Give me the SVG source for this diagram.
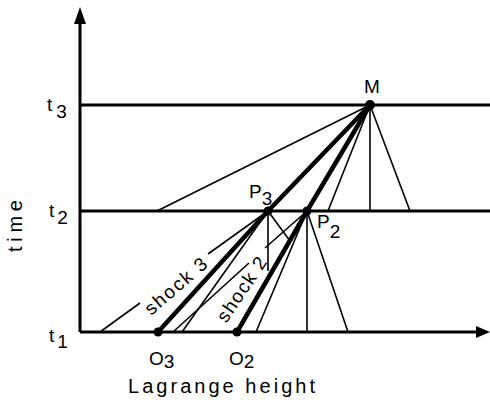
<svg xmlns="http://www.w3.org/2000/svg" width="490" height="400" viewBox="0 0 490 400">
<style>
text{font-family:"Liberation Sans",Arial,sans-serif;font-size:19px;fill:#000}
.ax{stroke:#000;stroke-width:3;fill:none}
.thk{stroke:#000;stroke-width:4.5;fill:none;stroke-linecap:round}
.thn{stroke:#000;stroke-width:1.6;fill:none}
.dot{fill:#000}
</style>
<rect width="490" height="400" fill="#fff"/>
<g id="axes">
<line class="ax" x1="80" y1="332" x2="80" y2="20"/>
<polygon points="80,7 74,24 86,24" fill="#000"/>
<line class="ax" x1="80" y1="332" x2="478" y2="332"/>
<polygon points="490,332 476,326 476,338" fill="#000"/>
<line class="ax" x1="80" y1="105" x2="490" y2="105"/>
<line class="ax" x1="80" y1="211" x2="490" y2="211"/>
</g>
<g id="connectors">
<line class="thk" x1="370" y1="105" x2="268" y2="211"/>
<line class="thk" x1="268" y1="211" x2="158" y2="332"/>
<line class="thk" x1="370" y1="105" x2="307" y2="211"/>
<line class="thk" x1="307" y1="211" x2="237" y2="332"/>
<line class="thn" x1="370" y1="105" x2="157" y2="211"/>
<line class="thn" x1="370" y1="105" x2="328" y2="211"/>
<line class="thn" x1="370" y1="105" x2="370" y2="211"/>
<line class="thn" x1="370" y1="105" x2="410" y2="211"/>
<line class="thn" x1="100" y1="332" x2="140" y2="303"/>
<line class="thn" x1="208" y1="254" x2="268" y2="211"/>
<line class="thn" x1="268" y1="211" x2="182" y2="332"/>
<line class="thn" x1="268" y1="211" x2="268" y2="271"/>
<line class="thn" x1="268" y1="211" x2="290" y2="241"/>
<line class="thn" x1="307" y1="211" x2="265" y2="248"/>
<line class="thn" x1="249" y1="263" x2="173" y2="332"/>
<line class="thn" x1="307" y1="211" x2="256" y2="332"/>
<line class="thn" x1="307" y1="211" x2="307" y2="332"/>
<line class="thn" x1="307" y1="211" x2="348" y2="332"/>
</g>
<g id="node-M"><circle class="dot" cx="370" cy="105" r="5"/><text x="372" y="93" text-anchor="middle">M</text></g>
<g id="node-P3"><circle class="dot" cx="268" cy="211" r="4.5"/><text x="249" y="198">P<tspan dy="7">3</tspan></text></g>
<g id="node-P2"><circle class="dot" cx="307" cy="211" r="4.5"/><text x="317" y="228">P<tspan dy="10">2</tspan></text></g>
<g id="node-O3"><circle class="dot" cx="158" cy="332" r="4.5"/><text x="149" y="365">O<tspan dy="3">3</tspan></text></g>
<g id="node-O2"><circle class="dot" cx="237" cy="332" r="4.5"/><text x="229" y="365">O<tspan dy="3">2</tspan></text></g>
<g id="labels">
<text x="47" y="111">t<tspan dx="4" dy="7">3</tspan></text>
<text x="49" y="217">t<tspan dx="3" dy="7">2</tspan></text>
<text x="49" y="342">t<tspan dx="3" dy="6">1</tspan></text>
<text transform="translate(22,226) rotate(-90)" text-anchor="middle" textLength="52" lengthAdjust="spacing" style="font-size:20px">time</text>
<text x="128" y="393" textLength="187" lengthAdjust="spacing" style="font-size:20px">Lagrange height</text>
<text transform="translate(180,291) rotate(-41)" text-anchor="middle" textLength="76" lengthAdjust="spacing">shock 3</text>
<text transform="translate(247,293) rotate(-56)" text-anchor="middle" textLength="74" lengthAdjust="spacing">shock 2</text>
</g>
</svg>
